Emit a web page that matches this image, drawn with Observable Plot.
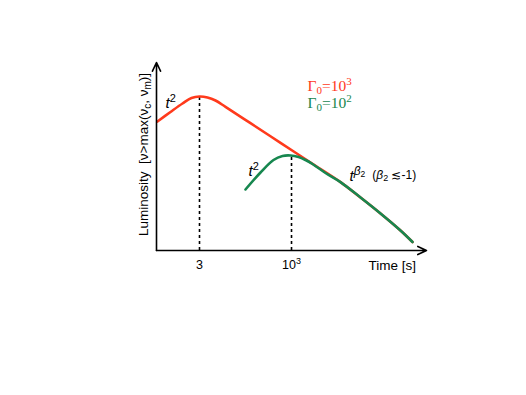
<!DOCTYPE html>
<html>
<head>
<meta charset="utf-8">
<script src="https://cdn.jsdelivr.net/npm/d3@7"></script>
<script src="https://cdn.jsdelivr.net/npm/@observablehq/plot@0.6"></script>
<style>
  html, body { margin: 0; padding: 0; background: #fff; }
  #chart { width: 526px; height: 395px; }
</style>
</head>
<body>
<div id="chart"></div>
<script>
// x = log10(time [s]) ; y = log10(luminosity) in arbitrary units (schematic)
const redLogT = [-0.675, -0.318, 0.011, 0.258, 0.477, 0.696, 0.916, 1.190, 1.875, 2.698, 3.521, 4.343, 4.892, 5.440, 5.988, 6.317];
const redLogL = [3.537, 3.798, 4.031, 4.182, 4.223, 4.195, 4.113, 3.940, 3.491, 2.953, 2.413, 1.876, 1.453, 1.015, 0.548, 0.233];
const greenLogT = [1.738, 2.150, 2.506, 2.753, 2.972, 3.192, 3.384, 3.575, 3.932, 4.343, 4.892, 5.440, 5.988, 6.317];
const greenLogL = [1.673, 2.139, 2.481, 2.591, 2.605, 2.564, 2.481, 2.372, 2.125, 1.876, 1.453, 1.015, 0.548, 0.233];
const peakTimes = [3, 1000];
const peakLogL = [4.223, 2.605];
const tickValues = [Math.log10(3), 3];
const tickLabels = ["3", "10³"];
const seriesNames = ["Γ0=103", "Γ0=102"];
const colors = ["#ff3a1c", "#17874f"];

const xDomain = [-0.702, 6.701];
const yDomain = [0, 5.155];

const red = redLogT.map((t, i) => ({t, L: redLogL[i]}));
const green = greenLogT.map((t, i) => ({t, L: greenLogL[i]}));
const peaks = peakTimes.map((p, i) => ({t: Math.log10(p), L: peakLogL[i]}));
const axes = [
  {x1: xDomain[0], y1: 0, x2: xDomain[1], y2: 0},
  {x1: xDomain[0], y1: 0, x2: xDomain[0], y2: yDomain[1]}
];

const chart = Plot.plot({
  width: 526,
  height: 395,
  marginLeft: 156,
  marginRight: 100,
  marginTop: 62,
  marginBottom: 145,
  style: {fontFamily: "'Liberation Sans', Arial, sans-serif", fontSize: "12px", background: "white", overflow: "visible"},
  x: {type: "linear", domain: xDomain},
  y: {type: "linear", domain: yDomain, axis: null},
  marks: [
    Plot.ruleX(peaks, {x: "t", y1: 0, y2: "L", stroke: "black", strokeWidth: 1.6, strokeDasharray: "3,3"}),
    Plot.line(red, {x: "t", y: "L", stroke: colors[0], strokeWidth: 2.6, curve: "catmull-rom"}),
    Plot.line(green, {x: "t", y: "L", stroke: colors[1], strokeWidth: 2.6, curve: "catmull-rom"}),
    Plot.arrow(axes, {x1: "x1", y1: "y1", x2: "x2", y2: "y2", stroke: "black", strokeWidth: 1.6, headLength: 9, headAngle: 50, bend: 0}),
    Plot.axisX({ticks: tickValues, tickFormat: (d, i) => tickLabels[i], tickSize: 0, tickPadding: 10, fontSize: 12.5, label: null, color: "black", className: "xt"}),
    // axis titles
    Plot.text(["Time [s]"], {x: 5.111, y: -0.521, text: d => d, textAnchor: "start", lineAnchor: "bottom", fontSize: 13.5, fill: "black"}),
    Plot.text(["ylab"], {x: xDomain[0], y: 2.632, dx: -13, rotate: -90, text: d => d, fontSize: 13.5, fill: "black", className: "ylab"}),
    // annotations
    Plot.text(["t2"], {x: -0.455, y: 3.894, text: d => d, textAnchor: "start", lineAnchor: "bottom", fontSize: 15, fill: "black", className: "tsq"}),
    Plot.text(["t2"], {x: 1.821, y: 2.056, text: d => d, textAnchor: "start", lineAnchor: "bottom", fontSize: 15, fill: "black", className: "tsq"}),
    Plot.text(["tb"], {x: 4.590, y: 1.892, text: d => d, textAnchor: "start", lineAnchor: "bottom", fontSize: 15, fill: "black", className: "tbeta"}),
    // legend
    Plot.text([seriesNames[0]], {x: 3.438, y: 4.360, text: d => d, textAnchor: "start", lineAnchor: "bottom", fontSize: 15.5, fill: colors[0], className: "leg leg3"}),
    Plot.text([seriesNames[1]], {x: 3.438, y: 3.894, text: d => d, textAnchor: "start", lineAnchor: "bottom", fontSize: 15.5, fill: colors[1], className: "leg leg2"})
  ]
});

const svg = d3.select(chart);
svg.selectAll(".ylab text").html('Luminosity&#160;&#160;[ν&gt;max(ν<tspan dy="3" font-size="10">c</tspan><tspan dy="-3">, ν</tspan><tspan dy="3" font-size="10">m</tspan><tspan dy="-3">)]</tspan>');
svg.selectAll(".tsq text").html('<tspan font-style="italic">t</tspan><tspan dy="-6" font-size="11">2</tspan>');
svg.selectAll(".tbeta text").html('<tspan font-style="italic">t</tspan><tspan dy="-6" font-size="12" font-style="italic">β</tspan><tspan dy="2" font-size="8.5">2</tspan><tspan dx="7" dy="2" font-size="12">(</tspan><tspan font-size="12" font-style="italic">β</tspan><tspan dy="2" font-size="9">2</tspan><tspan dy="-2" font-size="12"> ≲-1)</tspan>');
svg.selectAll(".leg3 text").html('Γ<tspan dy="3" font-size="11">0</tspan><tspan dy="-3">=10</tspan><tspan dy="-6" font-size="11">3</tspan>');
svg.selectAll(".leg2 text").html('Γ<tspan dy="3" font-size="11">0</tspan><tspan dy="-3">=10</tspan><tspan dy="-6" font-size="11">2</tspan>');
svg.selectAll(".leg text").attr("font-family", "'Liberation Serif', 'Times New Roman', serif");
svg.selectAll(".xt text").filter(function() { return this.textContent === "10³"; })
  .html('10<tspan dy="-5" font-size="9">3</tspan>');

document.getElementById("chart").appendChild(chart);
</script>
</body>
</html>
